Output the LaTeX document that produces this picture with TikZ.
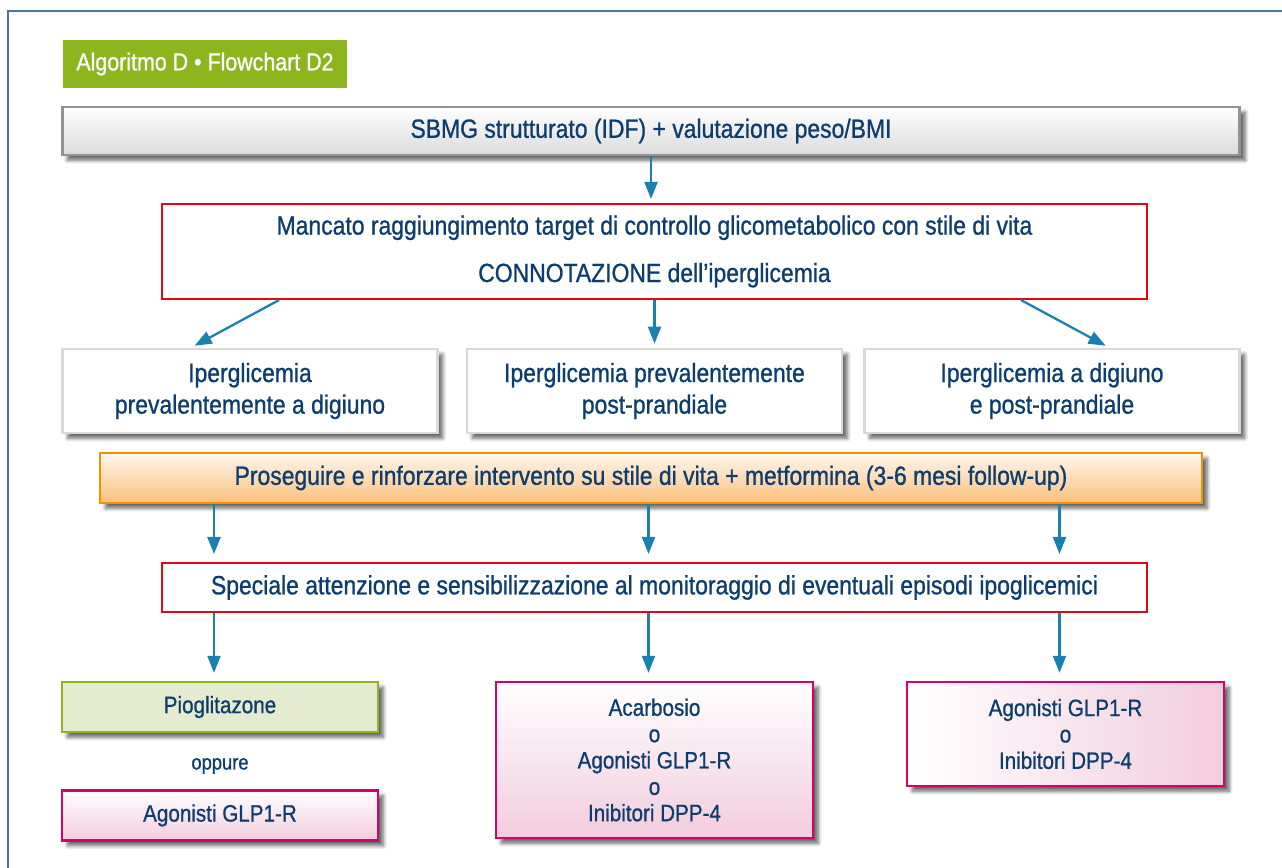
\documentclass[tikz,border=0pt]{standalone}
\usepackage{fontspec}
\setmainfont{Liberation Sans}[FakeStretch=0.87, FakeBold=0.9]
\usetikzlibrary{arrows.meta,positioning,calc,shadows.blur}

\definecolor{txtblue}{HTML}{0D3D6E}
\definecolor{arrblue}{HTML}{1A80B0}
\definecolor{framec}{HTML}{4F7394}
\definecolor{titlegreen}{HTML}{8CB51E}
\definecolor{palegreen}{HTML}{E5EBCF}
\definecolor{boxred}{HTML}{E30613}
\definecolor{boxorange}{HTML}{F39200}
\definecolor{paleorange}{HTML}{F9C07A}
\definecolor{boxpink}{HTML}{D6006E}
\definecolor{palepink}{HTML}{F2CCDE}

\begin{document}
\begin{tikzpicture}[x=0.02cm, y=-0.02cm,
font=\fontsize{15}{18}\selectfont, text=txtblue,
base/.style={rectangle, align=center, inner sep=0pt},
shade/.style={blur shadow={shadow xshift=3pt, shadow yshift=-3pt, shadow opacity=60, shadow blur steps=6}},
graybox/.style={base, shade, draw=gray!85, line width=1.6pt, top color=white, bottom color=gray!28},
redbox/.style={base, draw=boxred, line width=1.2pt, fill=white},
whitebox/.style={base, shade, draw=gray!30, line width=1.6pt, fill=white, minimum width=7.5cm, minimum height=1.68cm},
orangebox/.style={base, shade, draw=boxorange, line width=1.3pt, top color=orange!6, bottom color=paleorange},
greenbox/.style={base, shade, draw=titlegreen, line width=1.4pt, fill=palegreen},
pinkbox/.style={base, shade, draw=boxpink, line width=1.4pt, top color=white, bottom color=palepink},
small/.style={font=\fontsize{13.5}{15}\selectfont},
arr/.style={-{Triangle[length=0.34cm, width=0.26cm]}, draw=arrblue, line width=1.3pt, shorten >=0.16cm}
]
\useasboundingbox (0,0) rectangle (1282,868);
%Frame
\draw[framec, line width=1.3pt] (8,868) -- (8,11) -- (1282,11);
%Nodes
\node[base, fill=titlegreen, text=white, minimum width=5.68cm, minimum height=0.96cm,
  font=\fontsize{14}{16}\selectfont]                         (title)   at (205,64)   {Algoritmo D • Flowchart D2};
\node[graybox, minimum width=23.56cm, minimum height=0.96cm]  (sbmg)    at (651,131)  {SBMG strutturato (IDF) + valutazione peso/BMI};
\node[redbox, minimum width=19.7cm, minimum height=1.9cm]     (conn)    at (654.5,251.5)
  {Mancato raggiungimento target di controllo glicometabolico con stile di vita\\[9pt]CONNOTAZIONE dell’iperglicemia};
\node[whitebox]                                               (digiuno) at (250,391)    {Iperglicemia\\prevalentemente a digiuno};
\node[whitebox]                                               (postpr)  at (654.5,391)  {Iperglicemia prevalentemente\\post-prandiale};
\node[whitebox]                                               (both)    at (1052,391)   {Iperglicemia a digiuno\\e post-prandiale};
\node[orangebox, minimum width=22.04cm, minimum height=1cm]   (metf)    at (651,478)
  {Proseguire e rinforzare intervento su stile di vita + metformina (3-6 mesi follow-up)};
\node[redbox, minimum width=19.7cm, minimum height=0.98cm]    (ipo)     at (654.5,587.5)
  {Speciale attenzione e sensibilizzazione al monitoraggio di eventuali episodi ipoglicemici};
\node[greenbox, small, minimum width=6.32cm, minimum height=1cm] (pio)  at (220,707)    {Pioglitazone};
\node[small, font=\fontsize{12}{14}\selectfont]                (oppure)  at (220,766)    {oppure};
\node[pinkbox, small, minimum width=6.32cm, minimum height=1cm] (glp)   [below=1.12cm of pio] {Agonisti GLP1-R};
\node[pinkbox, small, minimum width=6.34cm, minimum height=3.12cm] (acarb) at (654.5,760)
  {Acarbosio\\o\\Agonisti GLP1-R\\o\\Inibitori DPP-4};
\node[pinkbox, small, left color=white, right color=palepink, minimum width=6.34cm, minimum height=2.08cm] (dpp) at (1065.5,734)
  {Agonisti GLP1-R\\o\\Inibitori DPP-4};
%Lines
\draw[arr, shorten >=0.08cm] (sbmg.south) -- (sbmg.south |- conn.north);
\draw[arr, shorten >=0.08cm] ($(conn.south west)+(118,0)$) -- ($(digiuno.north west)+(130,0)$);
\draw[arr, shorten >=0.08cm] (conn.south -| postpr) -- (postpr.north);
\draw[arr, shorten >=0.08cm] ($(conn.south east)+(-127,0)$) -- ($(both.north west)+(246,0)$);
\foreach \b in {pio,acarb,dpp}{
  \draw[arr] ($(metf.south -| \b)+(-6,0)$) -- ($(ipo.north -| \b)+(-6,0)$);
  \draw[arr] ($(ipo.south -| \b)+(-6,0)$) -- ($(\b.north)+(-6,0)$);
}
\end{tikzpicture}
\end{document}
